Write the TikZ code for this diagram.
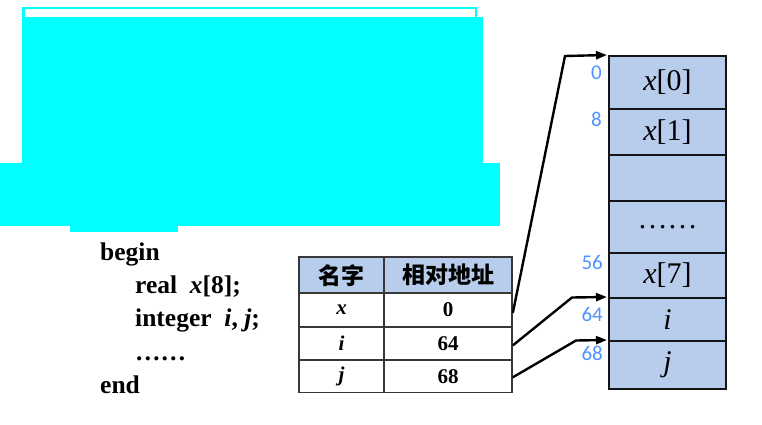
\documentclass[tikz,border=0pt]{standalone}
\usepackage{fontspec}
\setmainfont{Liberation Serif}
\newfontfamily\cjkfont{Noto Sans CJK SC}
\newfontfamily\lblfont{Carlito}
\usetikzlibrary{arrows.meta}
\definecolor{cellblue}{RGB}{183,205,235}
\definecolor{lblblue}{RGB}{77,148,255}
\definecolor{cyanfill}{RGB}{0,255,255}
\definecolor{borderc}{RGB}{20,20,20}
\tikzset{
  memcell/.style={draw=borderc, line width=2pt, fill=cellblue, minimum width=117pt, inner sep=0pt, font=\fontsize{30}{32}\selectfont},
  tabcell/.style={draw=borderc!85, line width=1.6pt, inner sep=0pt, font=\fontsize{21}{23}\selectfont\bfseries},
  cjkcell/.style={tabcell, fill=cellblue, minimum height=36pt, font=\cjkfont\fontsize{23}{25}\selectfont\bfseries},
  codeline/.style={anchor=base west, inner sep=0pt, font=\fontsize{25.5}{28}\selectfont\bfseries},
  addr/.style={text=lblblue, inner sep=0pt, font=\lblfont\fontsize{21}{23}\selectfont},
  ptr/.style={line width=2.4pt, -{Triangle[length=11pt,width=8pt]}}
}
\begin{document}
\begin{tikzpicture}[x=1pt,y=-1pt]
\useasboundingbox (0,0) rectangle (762,425);
% cyan shapes
\draw[cyanfill, line width=2.2pt] (23.5,17) -- (23.5,7.8) -- (476.3,7.8) -- (476.3,17);
\fill[cyanfill] (22,16.7) rectangle (483,163.5);
\fill[cyanfill] (0,163) rectangle (500,226);
\fill[cyanfill] (70,225) rectangle (178,231.7);
% code
\node[codeline] (l1) at (100,260) {begin};
\node[codeline] (l2) at (135,293.5) {real\ \ \textit{x}[8];};
\node[codeline] (l3) at (135,326.5) {integer\ \ \textit{i}, \textit{j};};
\node[codeline] (l4) at (135,360) {……};
\node[codeline] (l5) at (100,393) {end};
% table
\node[cjkcell, minimum width=85pt] (h1) at (341.5,275.2) {名字};
\node[cjkcell, minimum width=128pt] (h2) at (448,275.2) {相对地址};
\node[tabcell, minimum width=85pt, minimum height=33.4pt] (n1) at (341.5,310) {\textit{x}};
\node[tabcell, minimum width=128pt, minimum height=33.4pt] (a1) at (448,310) {0};
\node[tabcell, minimum width=85pt, minimum height=33.4pt] (n2) at (341.5,343.4) {\textit{i}};
\node[tabcell, minimum width=128pt, minimum height=33.4pt] (a2) at (448,343.4) {64};
\node[tabcell, minimum width=85pt, minimum height=32.4pt] (n3) at (341.5,376.3) {\textit{j}};
\node[tabcell, minimum width=128pt, minimum height=32.4pt] (a3) at (448,376.3) {68};
% memory
\node[memcell, minimum height=53pt] (c0) at (667.5,82.5) {\textit{x}[0]};
\node[memcell, minimum height=46pt] (c1) at (667.5,132) {\textit{x}[1]};
\node[memcell, minimum height=46pt] (c2) at (667.5,178) {};
\node[memcell, minimum height=52pt] (c3) at (667.5,227) {……};
\node[memcell, minimum height=45pt] (c4) at (667.5,275.5) {\textit{x}[7]};
\node[memcell, minimum height=43pt] (c5) at (667.5,319.5) {\textit{i}};
\node[memcell, minimum height=48pt] (c6) at (667.5,365) {\textit{j}};
% address labels
\node[addr, anchor=east] (o0) at (602,73) {0};
\node[addr, anchor=east] (o8) at (602,119) {8};
\node[addr, anchor=east] (o56) at (603,262.5) {56};
\node[addr, anchor=east] (o64) at (603,314.5) {64};
\node[addr, anchor=east] (o68) at (603,353.5) {68};
% pointers
\coordinate (k0) at (565,56);
\coordinate (k1) at (572,297.5);
\coordinate (k2) at (576,340.5);
\draw[ptr] ([yshift=-3pt]a1.east) -- (k0) -- ([xshift=-1pt]c0.north west);
\draw[ptr] ([yshift=-2pt]a2.east) -- (k1) -- ([xshift=-1pt]c5.north west);
\draw[ptr] ([yshift=-1pt]a3.east) -- (k2) -- ([xshift=-1pt]c6.north west);
\end{tikzpicture}
\end{document}
